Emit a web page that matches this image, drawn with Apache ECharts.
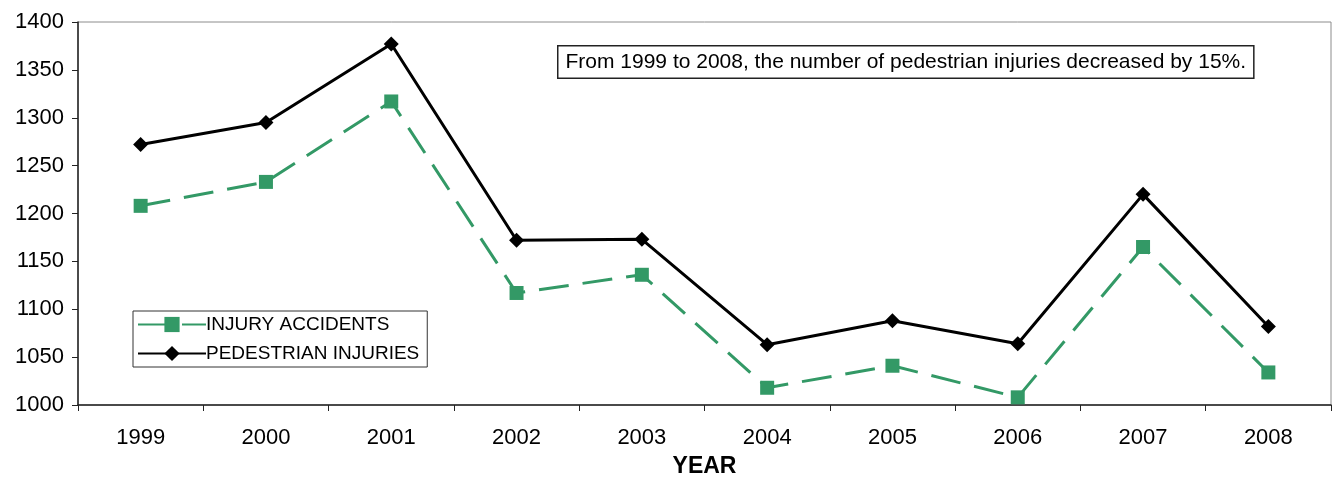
<!DOCTYPE html>
<html>
<head>
<meta charset="utf-8">
<script src="https://cdn.jsdelivr.net/npm/echarts@6/dist/echarts.min.js"></script>
<style>
  html, body { margin: 0; padding: 0; background: #fff; }
  #chart { width: 1334px; height: 479px; }
</style>
</head>
<body>
<div id="chart"></div>
<script>
// values
const years = ['1999', '2000', '2001', '2002', '2003', '2004', '2005', '2006', '2007', '2008'];
const injuryAccidents = [1208, 1233, 1317, 1117, 1136, 1018, 1041, 1008, 1165, 1034];
const pedestrianInjuries = [1272, 1295, 1377, 1172, 1173, 1063, 1088, 1064, 1220, 1082];
const note = 'From 1999 to 2008, the number of pedestrian injuries decreased by 15%.';

const font = 'Liberation Sans, Arial, sans-serif';
const chart = echarts.init(document.getElementById('chart'));

chart.setOption({
  backgroundColor: '#fff',
  animation: false,
  textStyle: { fontFamily: font },
  grid: {
    left: 78,
    right: 3,
    top: 22,
    bottom: 74,
    containLabel: false,
    outerBoundsMode: 'none',
    show: true,
    borderColor: '#8c8c8c',
    borderWidth: 1
  },
  legend: {
    orient: 'vertical',
    left: 133,
    top: 311,
    itemWidth: 68,
    itemHeight: 19,
    itemGap: 10,
    padding: [4, 8, 4, 4],
    borderColor: '#333',
    borderWidth: 1,
    textStyle: { fontSize: 19, color: '#000', fontFamily: font, padding: [0, 0, 0, -5] },
    data: ['INJURY ACCIDENTS', 'PEDESTRIAN INJURIES']
  },
  xAxis: {
    type: 'category',
    data: years,
    boundaryGap: true,
    name: 'YEAR',
    nameLocation: 'middle',
    nameGap: 50,
    nameTextStyle: { fontSize: 23, fontWeight: 'bold', color: '#000', fontFamily: font },
    axisLine: { lineStyle: { color: '#222', width: 1.5 } },
    axisTick: { show: true, length: 6, lineStyle: { color: '#222' } },
    axisLabel: { fontSize: 22, color: '#000', margin: 22, fontFamily: font },
    splitLine: { show: false }
  },
  yAxis: {
    type: 'value',
    min: 1000,
    max: 1400,
    interval: 50,
    axisLine: { show: true, lineStyle: { color: '#222', width: 1.5 } },
    axisTick: { show: true, length: 6, lineStyle: { color: '#222' } },
    axisLabel: { fontSize: 22, color: '#000', margin: 14, fontFamily: font, formatter: v => String(v) },
    splitLine: { show: false }
  },
  graphic: [
    {
      type: 'text',
      left: 557,
      top: 45,
      z: 100,
      style: {
        text: note,
        font: '21px ' + font,
        fill: '#000',
        backgroundColor: '#fff',
        borderColor: '#222',
        borderWidth: 1.5,
        padding: [5, 7, 5, 7]
      }
    }
  ],
  series: [
    {
      name: 'INJURY ACCIDENTS',
      type: 'line',
      data: injuryAccidents,
      symbol: 'rect',
      symbolSize: 14,
      itemStyle: { color: '#339966' },
      lineStyle: { color: '#339966', width: 3, type: [30, 14] },
      z: 2
    },
    {
      name: 'PEDESTRIAN INJURIES',
      type: 'line',
      data: pedestrianInjuries,
      symbol: 'diamond',
      symbolSize: 15,
      itemStyle: { color: '#000' },
      lineStyle: { color: '#000', width: 3 },
      z: 3
    }
  ]
});
</script>
</body>
</html>
